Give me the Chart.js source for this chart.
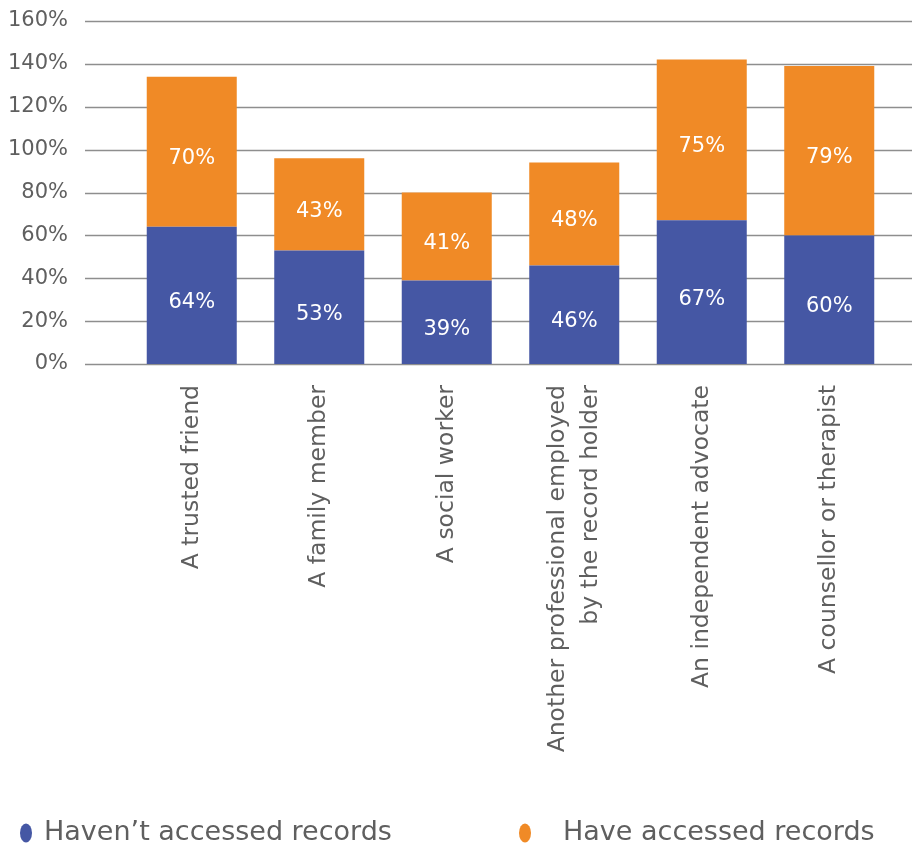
<!DOCTYPE html>
<html>
<head>
<meta charset="utf-8">
<title>Support when accessing records</title>
<script src="https://cdn.jsdelivr.net/npm/chart.js@4.4.1/dist/chart.umd.min.js"></script>
<style>
  body { margin: 0; background: #fff; }
  #wrap { width: 912px; height: 846px; position: relative; }
</style>
</head>
<body>
<div id="wrap"><canvas id="supportChart"></canvas></div>
<script>
// who people would want with them - split by whether they've accessed records
const categories = [
    "A trusted friend",
    "A family member",
    "A social worker",
    ["Another professional employed", "by the record holder"],
    "An independent advocate",
    "A counsellor or therapist"
];
const notAccessed = [64, 53, 39, 46, 67, 60];
const accessed = [70, 43, 41, 48, 75, 79];
const seriesNames = ["Haven\u2019t accessed records", "Have accessed records"];
const seriesColors = ["#4557a4", "#f08a26"];
const yMax = 160;
const yStep = 20;

const FONT = "'DejaVu Sans', sans-serif";
const TEXT_GREY = "#5f5f5f";
const GRID_GREY = "#8e8e8e";

// horizontal rules run past the plot area on both sides
const wideGrid = {
    id: "wideGrid",
    beforeDatasetsDraw(chart) {
        const y = chart.scales.y;
        const ctx = chart.ctx;
        ctx.save();
        ctx.strokeStyle = GRID_GREY;
        ctx.lineWidth = 1.3;
        y.ticks.forEach((t) => {
            const py = Math.round(y.getPixelForValue(t.value)) + 0.5;
            ctx.beginPath();
            ctx.moveTo(y.right - 43, py);
            ctx.lineTo(chart.width, py);
            ctx.stroke();
        });
        ctx.restore();
    }
};

// category names, turned upright and centred on their bar (two-line one included)
const categoryLabels = {
    id: "categoryLabels",
    afterDraw(chart) {
        const x = chart.scales.x;
        const ctx = chart.ctx;
        const lh = 33;
        ctx.save();
        ctx.fillStyle = TEXT_GREY;
        ctx.font = "23.5px " + FONT;
        ctx.textAlign = "right";
        ctx.textBaseline = "middle";
        categories.forEach((cat, i) => {
            const lines = Array.isArray(cat) ? cat : [cat];
            const px = x.getPixelForTick(i);
            ctx.save();
            ctx.translate(px, x.top + 21);
            ctx.rotate(-Math.PI / 2);
            lines.forEach((line, j) => {
                ctx.fillText(line, 0, (j - (lines.length - 1) / 2) * lh);
            });
            ctx.restore();
        });
        ctx.restore();
    }
};

// white percentage in the middle of each segment
const segmentLabels = {
    id: "segmentLabels",
    afterDatasetsDraw(chart) {
        const ctx = chart.ctx;
        ctx.save();
        ctx.fillStyle = "#fff";
        ctx.font = "21px " + FONT;
        ctx.textAlign = "center";
        ctx.textBaseline = "middle";
        chart.data.datasets.forEach((ds, i) => {
            chart.getDatasetMeta(i).data.forEach((bar, j) => {
                ctx.fillText(ds.data[j] + "%", bar.x, (bar.y + bar.base) / 2 + 7);
            });
        });
        ctx.restore();
    }
};

// legend along the bottom edge
const legendSlots = [{ dot: 26, text: 44 }, { dot: 525, text: 563 }];
const bottomLegend = {
    id: "bottomLegend",
    afterDraw(chart) {
        const ctx = chart.ctx;
        const cy = chart.height - 13;
        ctx.save();
        ctx.font = "27px " + FONT;
        ctx.textBaseline = "middle";
        chart.data.datasets.forEach((ds, i) => {
            const slot = legendSlots[i];
            ctx.fillStyle = ds.backgroundColor;
            ctx.beginPath();
            ctx.ellipse(slot.dot, cy, 6, 9.5, 0, 0, Math.PI * 2);
            ctx.fill();
            ctx.fillStyle = TEXT_GREY;
            ctx.fillText(ds.label, slot.text, cy);
        });
        ctx.restore();
    }
};

new Chart(document.getElementById("supportChart"), {
    type: "bar",
    data: {
        labels: categories,
        datasets: [
            { label: seriesNames[0], data: notAccessed, backgroundColor: seriesColors[0] },
            { label: seriesNames[1], data: accessed, backgroundColor: seriesColors[1] }
        ]
    },
    options: {
        responsive: true,
        maintainAspectRatio: false,
        animation: false,
        categoryPercentage: 0.706,
        barPercentage: 1,
        layout: { padding: { left: 0, right: 19, top: 21, bottom: 60 } },
        plugins: {
            legend: { display: false },
            tooltip: { enabled: false }
        },
        scales: {
            x: {
                stacked: true,
                grid: { display: false },
                border: { display: false },
                ticks: { display: false },
                afterFit(scale) { scale.height = 422; }
            },
            y: {
                stacked: true,
                min: 0,
                max: yMax,
                grid: { display: false, drawTicks: true, tickLength: 60 },
                border: { display: false },
                ticks: {
                    stepSize: yStep,
                    padding: 0,
                    color: TEXT_GREY,
                    font: { family: FONT, size: 21 },
                    callback: (v) => v + "%"
                },
                afterFit(scale) { scale.width = 128; }
            }
        }
    },
    plugins: [wideGrid, segmentLabels, categoryLabels, bottomLegend]
});
</script>
</body>
</html>
